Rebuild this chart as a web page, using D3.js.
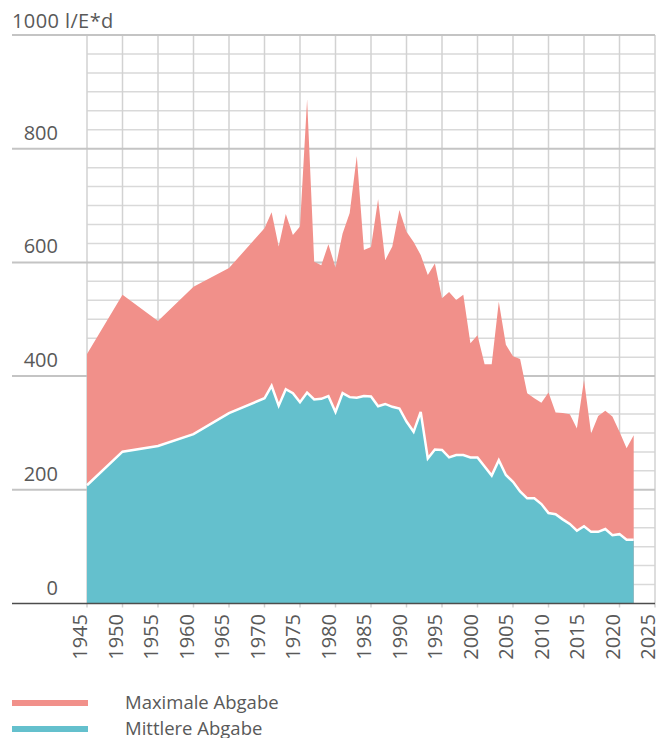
<!DOCTYPE html>
<html lang="de">
<head>
    <title>Abgabe</title>
    <script src="https://d3js.org/d3.v7.min.js"></script>
    <style>
        body { margin: 0; background: #fff; }
        text {
            font-family: "Open Sans", sans-serif;
            fill: #595959;
        }
    </style>
</head>
<body>

<script>
    const years = [1945, 1950, 1955, 1960, 1965, 1970,
        1971, 1972, 1973, 1974, 1975, 1976, 1977, 1978, 1979, 1980,
        1981, 1982, 1983, 1984, 1985, 1986, 1987, 1988, 1989, 1990,
        1991, 1992, 1993, 1994, 1995, 1996, 1997, 1998, 1999, 2000,
        2001, 2002, 2003, 2004, 2005, 2006, 2007, 2008, 2009, 2010,
        2011, 2012, 2013, 2014, 2015, 2016, 2017, 2018, 2019, 2020,
        2021, 2022];
    const maxAbgabe = [439, 543, 497, 557, 590, 660,
        688, 628, 685, 648, 663, 887, 601, 595, 632, 591,
        651, 687, 787, 622, 627, 711, 604, 628, 692, 654,
        636, 613, 578, 598, 537, 548, 534, 543, 458, 472,
        421, 421, 531, 455, 435, 430, 370, 361, 353, 371,
        336, 335, 333, 308, 393, 299, 330, 339, 329, 302,
        273, 296];
    const mittlereAbgabe = [208, 267, 277, 298, 335, 361,
        383, 348, 377, 370, 354, 371, 359, 360, 365, 337,
        370, 363, 362, 365, 364, 347, 351, 346, 343, 320,
        302, 337, 255, 271, 270, 257, 261, 261, 257, 257,
        241, 225, 252, 226, 214, 197, 185, 185, 175, 159,
        157, 148, 140, 128, 136, 126, 126, 131, 120, 122,
        112, 112];
    const yTicks = [0, 200, 400, 600, 800];
    const xTicks = d3.range(1945, 2026, 5);
    const seriesNames = ["Maximale Abgabe", "Mittlere Abgabe"];
    const colors = ["#f1908a", "#64c0cd"];

    const data = years.map((y, i) => ({year: y, max: maxAbgabe[i], mean: mittlereAbgabe[i]}));

    const width = 668, height = 738;
    const x = d3.scaleLinear().domain([1945, 2025]).range([87, 655]);
    const y = d3.scaleLinear().domain([0, 1000]).range([603.5, 35]);

    const svg = d3.select("body").append("svg")
        .attr("width", width).attr("height", height);

    // minor grid
    const minor = d3.range(0, 1001, 1000 / 30).filter(v => Math.abs(v % 200) > 1 && Math.abs(v % 200 - 200) > 1);
    svg.append("g").selectAll("line").data(minor).join("line")
        .attr("x1", x(1945)).attr("x2", x(2025))
        .attr("y1", d => y(d)).attr("y2", d => y(d))
        .attr("stroke", "#d9d9d9").attr("stroke-width", 1.5);

    // vertical grid
    svg.append("g").selectAll("line").data(xTicks).join("line")
        .attr("x1", d => x(d)).attr("x2", d => x(d))
        .attr("y1", y(1000)).attr("y2", y(0) + 4)
        .attr("stroke", "#d2d2d2").attr("stroke-width", 1.5);

    // major grid
    svg.append("g").selectAll("line").data([200, 400, 600, 800, 1000]).join("line")
        .attr("x1", 12).attr("x2", x(2025))
        .attr("y1", d => y(d)).attr("y2", d => y(d))
        .attr("stroke", "#c4c4c4").attr("stroke-width", 2);

    // areas
    const areaMax = d3.area().x(d => x(d.year)).y0(y(0)).y1(d => y(d.max));
    const areaMean = d3.area().x(d => x(d.year)).y0(y(0)).y1(d => y(d.mean));
    const lineMean = d3.line().x(d => x(d.year)).y(d => y(d.mean));

    svg.append("path").datum(data).attr("d", areaMax).attr("fill", colors[0]);
    svg.append("path").datum(data).attr("d", areaMean).attr("fill", colors[1]);
    svg.append("path").datum(data).attr("d", lineMean)
        .attr("fill", "none").attr("stroke", "#fff").attr("stroke-width", 2.5)
        .attr("stroke-linejoin", "miter");

    // baseline
    svg.append("line").attr("x1", 12).attr("x2", x(2025))
        .attr("y1", y(0)).attr("y2", y(0))
        .attr("stroke", "#4d4d4d").attr("stroke-width", 1.5);

    // y labels
    svg.append("g").selectAll("text").data(yTicks).join("text")
        .attr("x", 58).attr("y", d => y(d) - 9)
        .attr("text-anchor", "end").attr("font-size", 20)
        .text(d => d);
    svg.append("text").attr("x", 12).attr("y", 28)
        .attr("font-size", 20).attr("letter-spacing", 0.4).text("1000 l/E*d");

    // x labels
    svg.append("g").selectAll("text").data(xTicks).join("text")
        .attr("transform", d => `translate(${x(d)},614) rotate(-90)`)
        .attr("text-anchor", "end").attr("font-size", 20)
        .text(d => d);

    // legend
    const legend = svg.append("g").selectAll("g").data(seriesNames).join("g")
        .attr("transform", (d, i) => `translate(0,${703 + i * 26})`);
    legend.append("rect").attr("x", 12).attr("y", -3).attr("width", 76).attr("height", 6)
        .attr("fill", (d, i) => colors[i]);
    legend.append("text").attr("x", 125).attr("y", 5.5)
        .attr("font-size", 18.5).text(d => d);
</script>

</body>
</html>
